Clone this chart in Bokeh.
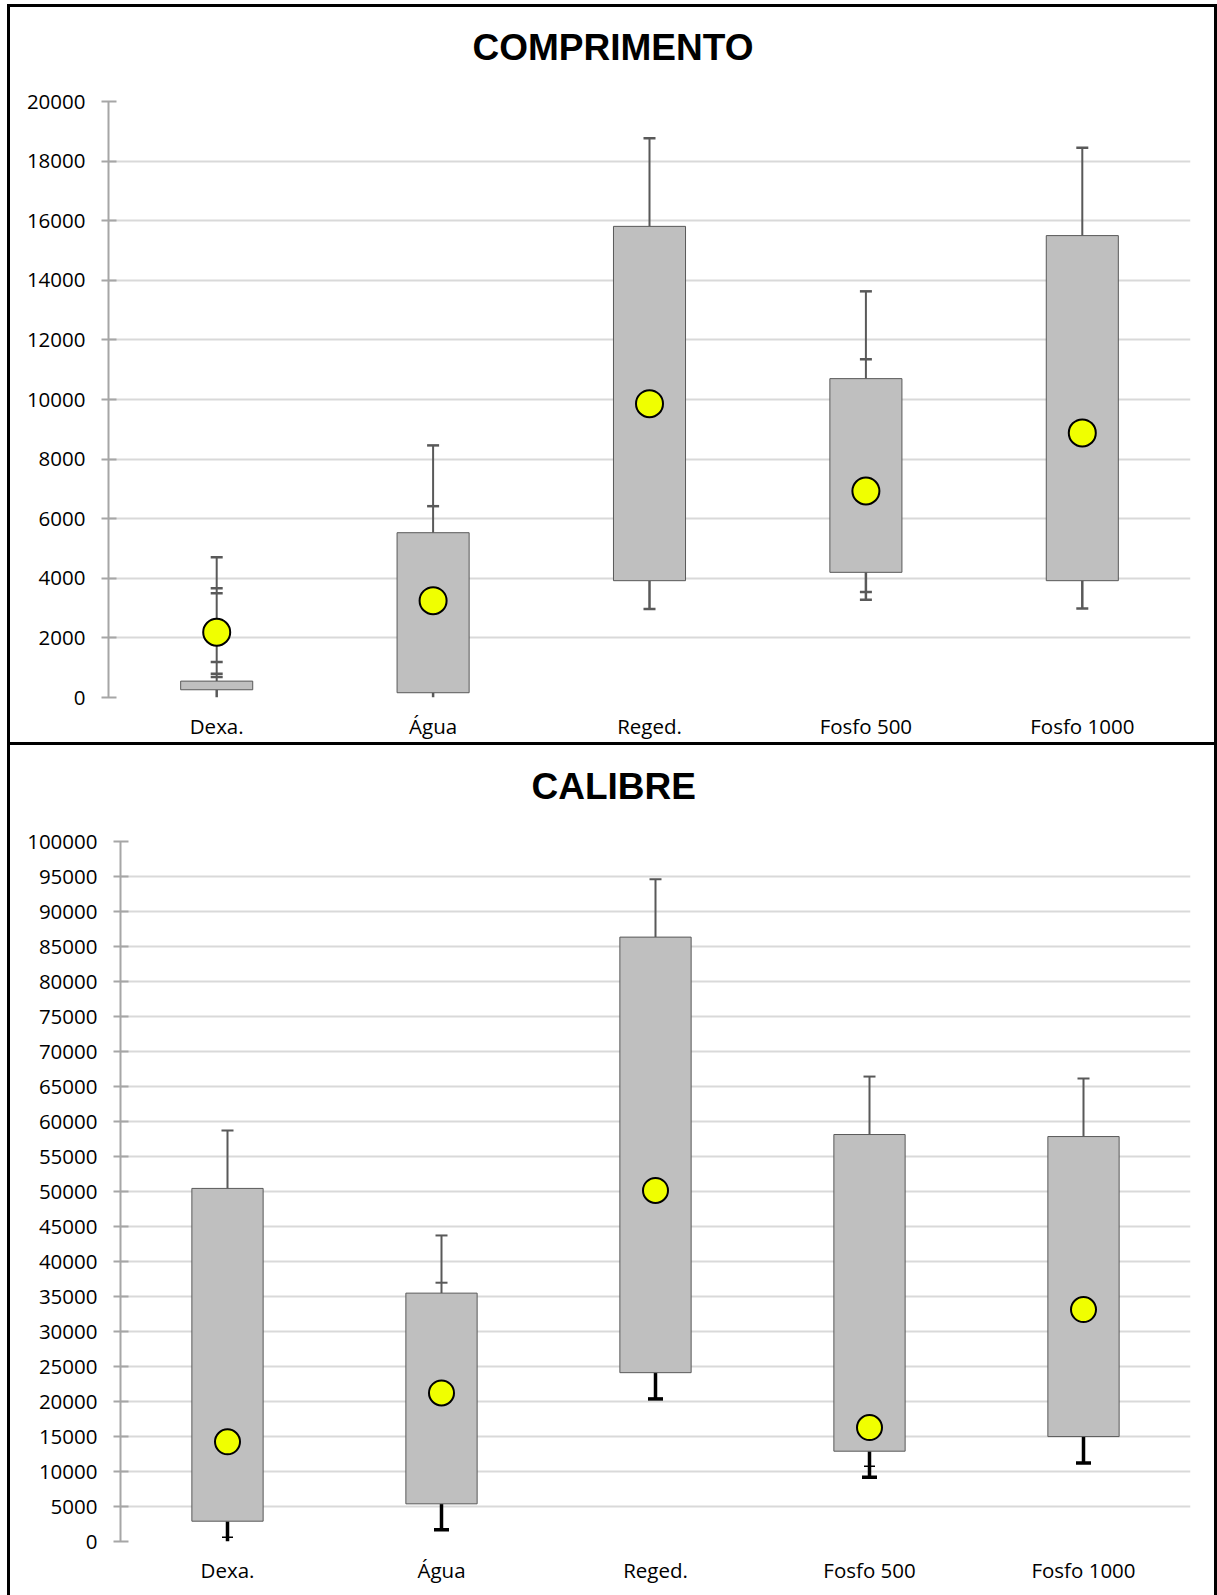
from bokeh.plotting import figure
from bokeh.models import (Range1d, FactorRange, FixedTicker, BasicTickFormatter, Title)
from bokeh.embed import file_html
from bokeh.resources import INLINE

categories = ["Dexa.", "Água", "Reged.", "Fosfo 500", "Fosfo 1000"]

# ---- COMPRIMENTO ----
comp_q1 = [260, 160, 3920, 4200, 3920]
comp_q3 = [550, 5530, 15810, 10700, 15500]
comp_mean = [2190, 3250, 9860, 6930, 8880]
comp_low = [0, 0, 2970, 3280, 2990]
comp_high = [4710, 8460, 18770, 13630, 18450]
comp_cap_x = ["Dexa.", "Dexa.", "Dexa.", "Dexa.", "Dexa.", "Dexa.",
              "Água", "Água", "Reged.", "Reged.",
              "Fosfo 500", "Fosfo 500", "Fosfo 500", "Fosfo 500",
              "Fosfo 1000", "Fosfo 1000"]
comp_cap_y = [4710, 3670, 3500, 1190, 800, 690,
              8460, 6420, 18770, 2970,
              13630, 11350, 3540, 3280,
              18450, 2990]
comp_ticks = list(range(0, 20001, 2000))

# ---- CALIBRE ----
cal_q1 = [2900, 5380, 24120, 12900, 14990]
cal_q3 = [50440, 35480, 86340, 58140, 57850]
cal_mean = [14240, 21220, 50150, 16280, 33140]
cal_low = [0, 1670, 20370, 9180, 11230]
cal_high = [58720, 43720, 94620, 66420, 66130]
cal_up_cap_x = ["Dexa.", "Água", "Água", "Reged.", "Fosfo 500", "Fosfo 1000"]
cal_up_cap_y = [58720, 43720, 36970, 94620, 66420, 66130]
cal_low_cap_x = ["Água", "Reged.", "Fosfo 500", "Fosfo 1000"]
cal_low_cap_y = [1670, 20370, 9180, 11230]
cal_thin_cap_x = ["Dexa.", "Fosfo 500"]
cal_thin_cap_y = [600, 10750]
cal_ticks = list(range(0, 100001, 5000))

W = 1217
FONT = "Open Sans"
BOX_FILL = "#BFBFBF"
BOX_LINE = "#595959"
WHISK = "#595959"
MEAN_FILL = "#F0FF00"


def base_fig(height, top, bottom, left, right, ymax, ticks, shadow):
    p = figure(width=W, height=height, output_backend="svg", toolbar_location=None,
               title=None, x_range=FactorRange(factors=categories, range_padding=0),
               y_range=Range1d(0, ymax),
               min_border_top=top, min_border_bottom=bottom,
               min_border_left=left, min_border_right=right,
               styles={"box-shadow": shadow, "background-color": "white"})
    p.outline_line_color = None
    p.background_fill_color = "white"
    p.border_fill_color = None
    p.xgrid.grid_line_color = None
    p.ygrid.grid_line_color = "#D9D9D9"
    p.ygrid.grid_line_width = 2
    p.yaxis.ticker = FixedTicker(ticks=ticks)
    p.yaxis.formatter = BasicTickFormatter(use_scientific=False)
    p.yaxis.minor_tick_line_color = None
    p.yaxis.axis_line_color = "#A6A6A6"
    p.yaxis.axis_line_width = 2
    p.yaxis.major_tick_line_color = "#A6A6A6"
    p.yaxis.major_tick_line_width = 2
    p.yaxis.major_tick_in = 8
    p.yaxis.major_tick_out = 7
    p.yaxis.major_label_standoff = 16
    p.yaxis.major_label_text_font = FONT
    p.yaxis.major_label_text_font_size = "20.5px"
    p.yaxis.major_label_text_color = "black"
    p.xaxis.axis_line_color = None
    p.xaxis.major_tick_line_color = None
    p.xaxis.major_tick_out = 0
    p.xaxis.major_tick_in = 0
    p.xaxis.minor_tick_line_color = None
    p.xaxis.major_label_standoff = 14
    p.xaxis.major_label_text_font = FONT
    p.xaxis.major_label_text_font_size = "20.5px"
    p.xaxis.major_label_text_color = "black"
    return p


def add_title(p, text, offset, gap):
    # spacer between the title and the plot frame
    p.add_layout(Title(text=" ", text_font_size="1px", standoff=gap), "above")
    p.title = Title(text=text, align="left", offset=offset, vertical_align="top", standoff=0,
                    text_font="Liberation Sans", text_font_style="bold",
                    text_font_size="37px", text_color="black")


TOP_SHADOW = ("inset 7px 0 0 0 #fff, inset 0 4px 0 0 #fff, inset 10px 0 0 0 #000, "
              "inset 0 7px 0 0 #000, inset -3px 0 0 0 #000, inset 0 -3px 0 0 #000")
BOTTOM_SHADOW = "inset 7px 0 0 0 #fff, inset 10px 0 0 0 #000, inset -3px 0 0 0 #000"

# Top chart (page y 0..745)
p1 = base_fig(745, 101, 48, 108, 27, 20000, comp_ticks, TOP_SHADOW)
p1.segment(x0=categories, y0=comp_q3, x1=categories, y1=comp_high, line_color=WHISK, line_width=2)
p1.segment(x0=categories, y0=comp_low, x1=categories, y1=comp_q1, line_color=WHISK, line_width=2.5)
p1.vbar(x=categories, width=0.333, bottom=comp_q1, top=comp_q3,
        fill_color=BOX_FILL, line_color=BOX_LINE, line_width=1)
p1.scatter(x=comp_cap_x, y=comp_cap_y, marker="dash", size=12, line_color=WHISK, line_width=2.5)
p1.scatter(x=categories, y=comp_mean, marker="circle", size=27,
           fill_color=MEAN_FILL, line_color="black", line_width=2)
add_title(p1, "COMPRIMENTO", 364, 29)

# Bottom chart (page y 745..1595)
p2 = base_fig(850, 96, 54, 120, 27, 100000, cal_ticks, BOTTOM_SHADOW)
p2.segment(x0=categories, y0=cal_q3, x1=categories, y1=cal_high, line_color=WHISK, line_width=2)
p2.segment(x0=categories, y0=cal_low, x1=categories, y1=cal_q1, line_color="black", line_width=3.5)
p2.vbar(x=categories, width=0.333, bottom=cal_q1, top=cal_q3,
        fill_color=BOX_FILL, line_color=BOX_LINE, line_width=1)
p2.scatter(x=cal_up_cap_x, y=cal_up_cap_y, marker="dash", size=12, line_color=WHISK, line_width=2)
p2.scatter(x=cal_low_cap_x, y=cal_low_cap_y, marker="dash", size=15, line_color="black", line_width=3.5)
p2.scatter(x=cal_thin_cap_x, y=cal_thin_cap_y, marker="dash", size=11, line_color="black", line_width=1.5)
p2.scatter(x=categories, y=cal_mean, marker="circle", size=25,
           fill_color=MEAN_FILL, line_color="black", line_width=2)
add_title(p2, "CALIBRE", 411, 30)

open("out.html", "w").write(file_html([p1, p2], INLINE))
